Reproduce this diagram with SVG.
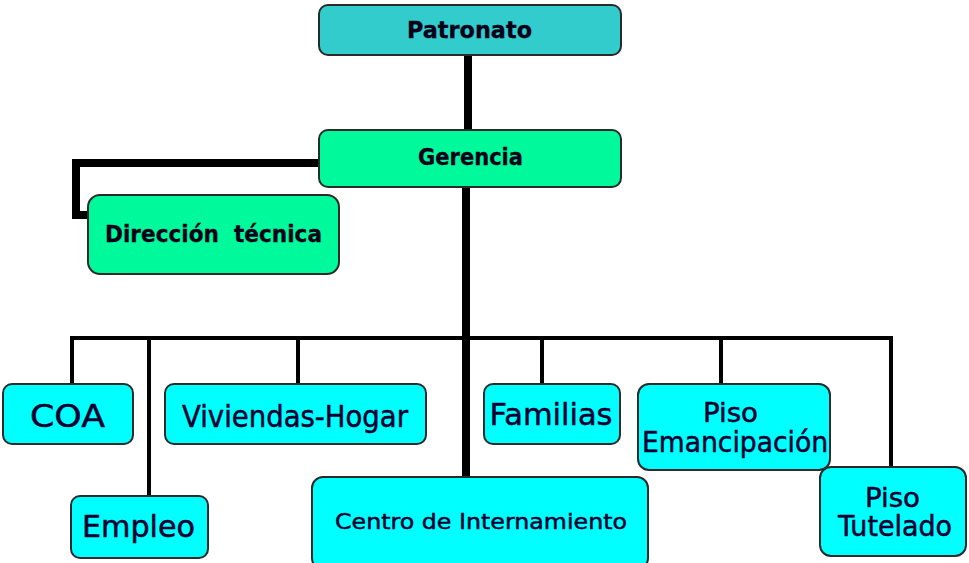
<svg xmlns="http://www.w3.org/2000/svg" width="969" height="563" viewBox="0 0 969 563">
<style>
.box{stroke:#2a2a2a;stroke-width:2}
.top{fill:#33CCCC}
.grn{fill:#00F99A}
.cy{fill:#00FFFF}
.b{font-family:"DejaVu Sans",Verdana,sans-serif;font-weight:bold;fill:#000018;stroke:#000018;stroke-width:0.3;text-anchor:middle}
.n{font-family:"DejaVu Sans",Verdana,sans-serif;fill:#000030;stroke:#000030;stroke-width:0.5;text-anchor:middle}
.c{fill:none;stroke:#000}
</style>
<rect width="969" height="563" fill="#fff"/>
<g id="connectors">
<line class="c" x1="468" y1="55" x2="468" y2="130" stroke-width="8"/>
<path class="c" d="M319,163 H76 V215 H90" stroke-width="8"/>
<line class="c" x1="466" y1="187" x2="466" y2="477" stroke-width="8"/>
<path class="c" d="M72,384 V338 H891 V467" stroke-width="4"/>
<line class="c" x1="149" y1="338" x2="149" y2="496" stroke-width="4"/>
<line class="c" x1="298" y1="338" x2="298" y2="384" stroke-width="4"/>
<line class="c" x1="542" y1="338" x2="542" y2="384" stroke-width="4"/>
<line class="c" x1="721" y1="338" x2="721" y2="384" stroke-width="4"/>
</g>
<g id="patronato">
<rect class="box top" x="319" y="5" width="302" height="50" rx="9"/>
<text class="b" x="469.5" y="38" style="font-size:23px" textLength="125" lengthAdjust="spacingAndGlyphs">Patronato</text>
</g>
<g id="gerencia">
<rect class="box grn" x="319" y="130" width="302" height="57" rx="9"/>
<text class="b" x="470.5" y="165" style="font-size:23px" textLength="105" lengthAdjust="spacingAndGlyphs">Gerencia</text>
</g>
<g id="direccion">
<rect class="box grn" x="88" y="195" width="251" height="79" rx="12"/>
<text class="b" x="213.5" y="242" style="font-size:23px" textLength="217" lengthAdjust="spacingAndGlyphs" xml:space="preserve">Dirección  técnica</text>
</g>
<g id="coa">
<rect class="box cy" x="3" y="384" width="130" height="60" rx="9"/>
<text class="n" x="67.5" y="427" style="font-size:32.5px" textLength="75" lengthAdjust="spacingAndGlyphs">COA</text>
</g>
<g id="viviendas">
<rect class="box cy" x="165" y="384" width="261" height="60" rx="9"/>
<text class="n" x="295" y="427" style="font-size:30px" textLength="226" lengthAdjust="spacingAndGlyphs">Viviendas-Hogar</text>
</g>
<g id="familias">
<rect class="box cy" x="484" y="384" width="136" height="60" rx="9"/>
<text class="n" x="551" y="425" style="font-size:31px" textLength="123" lengthAdjust="spacingAndGlyphs">Familias</text>
</g>
<g id="emancipacion">
<rect class="box cy" x="638" y="384" width="192" height="86" rx="11"/>
<text class="n" x="730.5" y="422" style="font-size:26px" textLength="55" lengthAdjust="spacingAndGlyphs">Piso</text>
<text class="n" x="735" y="452" style="font-size:28px" textLength="186" lengthAdjust="spacingAndGlyphs">Emancipación</text>
</g>
<g id="empleo">
<rect class="box cy" x="71" y="496" width="137" height="62" rx="9"/>
<text class="n" x="138.5" y="537" style="font-size:30px" textLength="113" lengthAdjust="spacingAndGlyphs">Empleo</text>
</g>
<g id="centro">
<rect class="box cy" x="312" y="477" width="336" height="92" rx="11"/>
<text class="n" x="481" y="529" style="font-size:22px" textLength="292" lengthAdjust="spacingAndGlyphs">Centro de Internamiento</text>
</g>
<g id="tutelado">
<rect class="box cy" x="820" y="467" width="146" height="89" rx="11"/>
<text class="n" x="892.5" y="507" style="font-size:27px" textLength="55" lengthAdjust="spacingAndGlyphs">Piso</text>
<text class="n" x="895" y="536" style="font-size:28px" textLength="114" lengthAdjust="spacingAndGlyphs">Tutelado</text>
</g>
</svg>
